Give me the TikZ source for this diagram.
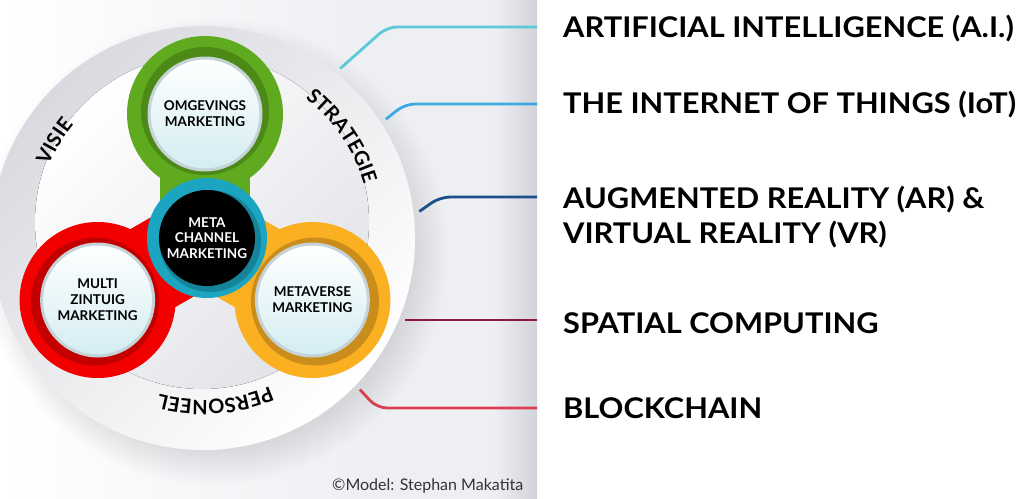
\documentclass[tikz,border=0pt]{standalone}
\usepackage{fontspec}
\setmainfont{Lato}
\newfontfamily\topicfont[FakeStretch=1.08]{Lato}
\usetikzlibrary{positioning, calc, decorations.text, shadows}

\definecolor{ringgreen}{HTML}{5FAA1E}
\definecolor{ringred}{HTML}{F20000}
\definecolor{ringorange}{HTML}{FBB022}
\definecolor{coreteal}{HTML}{1BA5C1}
\definecolor{bandgray}{HTML}{D9DADF}
\definecolor{diskgray}{HTML}{E2E3E8}
\definecolor{panelgray}{HTML}{EEEFF3}
\definecolor{edgegray}{HTML}{D2D3DA}
\definecolor{padcyan}{HTML}{D3EDF2}
\definecolor{padrim}{HTML}{C5D2D6}
\definecolor{aicol}{HTML}{5CC8DB}
\definecolor{iotcol}{HTML}{39ABE0}
\definecolor{arcol}{HTML}{1B4F8A}
\definecolor{spatialcol}{HTML}{8B1A3B}
\definecolor{chaincol}{HTML}{D8404F}

\pgfdeclarehorizontalshading{panel}{100bp}{color(0bp)=(white); color(25bp)=(white); color(60bp)=(panelgray); color(71bp)=(panelgray); color(75bp)=(edgegray); color(100bp)=(edgegray)}

\newcommand{\ringfont}{\fontsize{20}{20}\selectfont\bfseries}

\tikzstyle{wheelbox} = [circle, minimum size=424pt, inner sep=0pt, outer sep=6pt, top color=bandgray, bottom color=white, shading angle=45, circular drop shadow={shadow xshift=10pt, shadow yshift=-12pt, opacity=0.35, fill=edgegray!80!black}]
\tikzstyle{pad} = [circle, minimum size=112pt, inner sep=0pt, draw=padrim, line width=3pt, top color=white, bottom color=padcyan, align=center, font=\fontsize{13.5}{16}\selectfont\bfseries]
\tikzstyle{hubtext} = [circle, minimum size=96pt, inner sep=0pt, fill=black, text=white, align=center, font=\fontsize{13.5}{15.5}\selectfont\bfseries]
\tikzstyle{topic} = [anchor=base west, inner sep=0pt, align=left, font=\topicfont\fontsize{28.5}{35}\selectfont\bfseries]
\tikzstyle{link} = [line width=2.8pt, rounded corners=10pt]
\tikzstyle{ringword} = [decorate, decoration={text along path, text align=center, text color=black}]

\begin{document}
\begin{tikzpicture}[x=1pt, y=1pt]
  \useasboundingbox (0,0) rectangle (1024,-498);

  % Background panels
  \fill[white] (0,0) rectangle (1024,-498);
  \shade[shading=panel] (0,0) rectangle (537,-498);

  % Wheel with inner disk
  \node (wheel) [wheelbox] at (203,-238) {};
  \fill[top color=white, bottom color=diskgray, shading angle=45] (202,-222) circle (167);
  \coordinate (hub) at (203,-232);

  % Words along the wheel
  \path[ringword, decoration={text={|\ringfont|VISIE}}] ($(hub)+(178.6:168)$) arc[start angle=178.6, end angle=118.6, radius=168];
  \path[ringword, decoration={text={|\ringfont|STRATEGIE}}] ($(hub)+(64.5:168)$) arc[start angle=64.5, end angle=4.5, radius=168];
  \path[ringword, decoration={text={|\ringfont|PERSONEEL}}] ($(hub)+(-55.8:168)$) arc[start angle=-55.8, end angle=-115.8, radius=168];

  % Three pillars around the core
  \foreach \ang/\col/\name/\txt in {90/ringgreen/omgevings/{OMGEVINGS\\MARKETING}, 210/ringred/multi/{MULTI\\ZINTUIG\\MARKETING}, 330/ringorange/metaverse/{METAVERSE\\MARKETING}} {
    \begin{scope}[shift={(205,-238)}, rotate=\ang]
      \fill[\col] (0,-45) rectangle (124,45);
      \fill[\col] (124,0) circle (78);
      \fill[\col!65!black, opacity=0.55] (127,0) circle (64);
    \end{scope}
    \node (\name) [pad] at ($(205,-238)+(\ang:124)$) {\txt};
  }

  % Core
  \node (core) [circle, minimum size=120pt, inner sep=0pt, fill=coreteal] at (207,-238) {};
  \fill[coreteal!60!black, opacity=0.5] ($(core.center)+(3,-3)$) circle (51);
  \node (meta) [hubtext] at (core) {META\\CHANNEL\\MARKETING};

  % Topics (right side)
  \node (ai) [topic] at (563,-37) {ARTIFICIAL INTELLIGENCE (A.I.)};
  \node (iot) [topic] at (563,-113) {THE INTERNET OF THINGS (IoT)};
  \node (arvr) [topic] at (563,-243) {AUGMENTED REALITY (AR) \&\\VIRTUAL REALITY (VR)};
  \node (spatial) [topic] at (563,-333) {SPATIAL COMPUTING};
  \node (chain) [topic] at (563,-418) {BLOCKCHAIN};

  % Connector ends at the divider
  \coordinate (ai-end) at ($(ai.base west)+(-26,10)$);
  \coordinate (iot-end) at ($(iot.base west)+(-26,9)$);
  \coordinate (arvr-end) at ($(arvr.base west)+(-26,46)$);
  \coordinate (spatial-end) at ($(spatial.base west)+(-26,13)$);
  \coordinate (chain-end) at ($(chain.base west)+(-26,10)$);

  % Connectors
  \draw[link, aicol] (ai-end) -- ++(-150,0) -- (wheel.51);
  \draw[link, iotcol] (iot-end) -- ++(-132,0) -- (wheel.33);
  \draw[link, arcol] (arvr-end) -- ++(-97,0) -- (wheel.7);
  \draw[link, spatialcol] (spatial-end) -- (spatial-end -| wheel.-22);
  \draw[link, chaincol] (chain-end) -- ++(-160,0) -- (wheel.-44);

  % Credit
  \node (credit) [anchor=base west, inner sep=0pt, font=\fontsize{16}{16}\selectfont, text=black!80] at (332,-490) {©Model: Stephan Makatita};

\end{tikzpicture}
\end{document}
